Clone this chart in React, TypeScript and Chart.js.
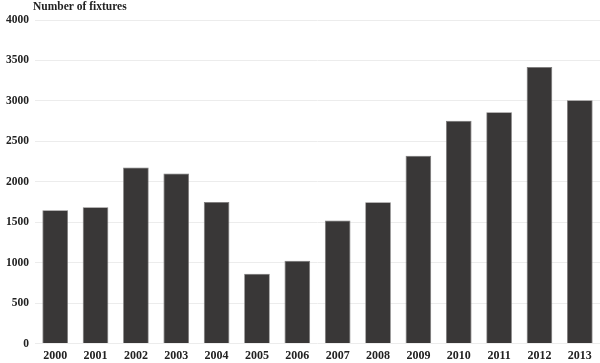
import React, { useEffect, useRef } from "react";
import { Chart, registerables } from "chart.js";

Chart.register(...registerables);

const years = ["2000","2001","2002","2003","2004","2005","2006","2007","2008","2009","2010","2011","2012","2013"];
const fixtures = [1648, 1686, 2178, 2103, 1751, 864, 1025, 1523, 1747, 2323, 2755, 2859, 3419, 3008];
const yTicks = [0, 500, 1000, 1500, 2000, 2500, 3000, 3500, 4000];
const axisTitle = "Number of fixtures";

const FONT = "'Liberation Serif', 'Times New Roman', serif";

const titlePlugin = {
  id: "topTitle",
  afterDraw(chart: any) {
    const { ctx, chartArea } = chart;
    ctx.save();
    ctx.font = `bold 11.5px ${FONT}`;
    ctx.fillStyle = "#222";
    ctx.textBaseline = "alphabetic";
    ctx.textAlign = "left";
    ctx.fillText(axisTitle, chartArea.left - 2, 10);
    ctx.restore();
  },
};

export default function App() {
  const ref = useRef<HTMLCanvasElement>(null);
  useEffect(() => {
    document.body.style.margin = "0";
    const chart = new Chart(ref.current!, {
      type: "bar",
      data: {
        labels: years,
        datasets: [
          {
            data: fixtures,
            backgroundColor: "#393737",
            borderColor: "#7a7878",
            borderWidth: 0.8,
            categoryPercentage: 1,
            barPercentage: 0.635,
          },
        ],
      },
      options: {
        animation: false,
        responsive: false,
        layout: { padding: { top: 20, right: 0, bottom: -5, left: 0 } },
        plugins: { legend: { display: false }, tooltip: { enabled: false }, title: { display: false } },
        scales: {
          x: {
            grid: { display: false, drawTicks: false },
            border: { display: false },
            ticks: { color: "#222", font: { family: FONT, size: 12, weight: "bold" }, padding: 5, maxRotation: 0 },
          },
          y: {
            min: 0,
            max: 4000,
            afterBuildTicks: (axis: any) => {
              axis.ticks = yTicks.map((v) => ({ value: v }));
            },
            grid: { color: "#ececec", lineWidth: 1, drawTicks: false },
            border: { display: false },
            ticks: {
              color: "#222",
              font: { family: FONT, size: 11.5, weight: "bold" },
              padding: 6,
              callback: (v: any) => String(v),
            },
          },
        },
      },
      plugins: [titlePlugin],
    });
    return () => chart.destroy();
  }, []);
  return (
    <div style={{ width: 600, height: 363 }}>
      <canvas ref={ref} width={600} height={363} style={{ display: "block" }} />
    </div>
  );
}
